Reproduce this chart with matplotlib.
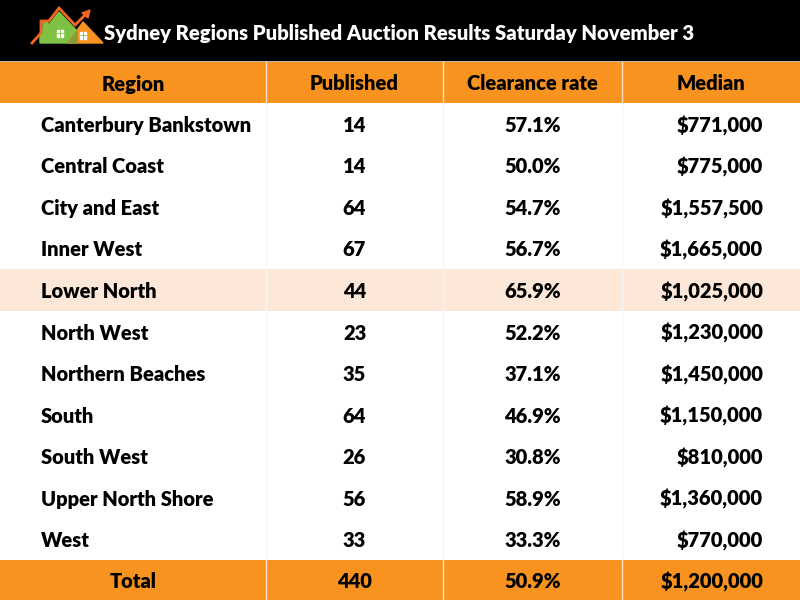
import matplotlib
matplotlib.use("Agg")
import matplotlib.pyplot as plt
from matplotlib.patches import Rectangle, Polygon

# Table data
title = "Sydney Regions Published Auction Results Saturday November 3"
columns = ["Region", "Published", "Clearance rate", "Median"]
regions = ["Canterbury Bankstown", "Central Coast", "City and East", "Inner West",
           "Lower North", "North West", "Northern Beaches", "South", "South West",
           "Upper North Shore", "West"]
published = [14, 14, 64, 67, 44, 23, 35, 64, 26, 56, 33]
clearance = [57.1, 50.0, 54.7, 56.7, 65.9, 52.2, 37.1, 46.9, 30.8, 58.9, 33.3]
median = [771000, 775000, 1557500, 1665000, 1025000, 1230000, 1450000,
          1150000, 810000, 1360000, 770000]
total = ["Total", 440, 50.9, 1200000]
highlight = "Lower North"

orange = "#F7931E"
light = "#FCE7D8"
font = "Lato"

fig = plt.figure(figsize=(8, 6), dpi=100)
ax = fig.add_axes([0, 0, 1, 1])
ax.set_xlim(0, 800)
ax.set_ylim(600, 0)
ax.axis("off")

# title band
ax.add_patch(Rectangle((0, 0), 800, 61, color="black"))
ax.text(104, 32, title, color="white", fontsize=14.6, fontweight="heavy",
        family=font, va="center_baseline", ha="left")

# logo
ax.add_patch(Polygon([(40, 43), (40, 33), (43, 30), (43, 22), (48, 22), (48, 26),
                      (59, 12), (77, 31), (77, 43)], color="#7DC242"))
ax.add_patch(Polygon([(68, 43), (83, 22), (103, 43)], color="#F7931E"))
ax.add_patch(Polygon([(68, 43), (77, 31), (77, 43)], color="#8A9A3A"))
ax.plot([32, 41, 41, 49, 59, 75, 86], [43, 33, 21, 21, 8, 25, 14], color="#F26522",
        lw=2.0, solid_joinstyle="miter")
ax.add_patch(Polygon([(82, 13), (90, 10), (88, 18)], color="#F26522"))
for wx, wy in [(57, 30), (80, 32)]:
    ax.add_patch(Rectangle((wx, wy), 6, 6.5, color="white"))
    ax.plot([wx + 3, wx + 3], [wy, wy + 6.5], color="#7DC242", lw=0.6)
    ax.plot([wx, wx + 6], [wy + 3.2, wy + 3.2], color="#7DC242", lw=0.6)

edges = [0, 266, 443, 622, 800]
header_top, header_h = 62, 41
row_h = (560 - (header_top + header_h)) / len(regions)

def draw_row(y, h, cells, fill, aligns):
    ax.add_patch(Rectangle((0, y), 800, h, color=fill, lw=0))
    for i, (txt, al) in enumerate(zip(cells, aligns)):
        if al == "left":
            x = edges[i] + 41
        elif al == "right":
            x = edges[i + 1] - 37
        else:
            x = (edges[i] + edges[i + 1]) / 2
        ax.text(x, y + h / 2, txt, ha=al, va="center_baseline", fontsize=14.5,
                fontweight="heavy", family=font, color="black")

ax.add_patch(Rectangle((0, 61), 800, 1, color="#BBBBBB", lw=0))
draw_row(header_top, header_h, columns, orange, ["center"] * 4)

y = header_top + header_h
for reg, pub, cl, med in zip(regions, published, clearance, median):
    fill = light if reg == highlight else "white"
    draw_row(y, row_h, [reg, str(pub), f"{cl:.1f}%", f"${med:,}"], fill,
             ["left", "center", "center", "right"])
    y += row_h

draw_row(y, 600 - y, [total[0], str(total[1]), f"{total[2]:.1f}%", f"${total[3]:,}"],
         orange, ["center", "center", "center", "right"])

# column separators
for x in edges[1:-1]:
    ax.plot([x, x], [header_top, header_top + header_h], color="#FCE0C8", lw=1)
    ax.plot([x, x], [header_top + header_h, 560], color="#F5F5F5", lw=1)
    ax.plot([x, x], [560, 600], color="#FCE0C8", lw=1)

fig.savefig("out.png", dpi=100)
